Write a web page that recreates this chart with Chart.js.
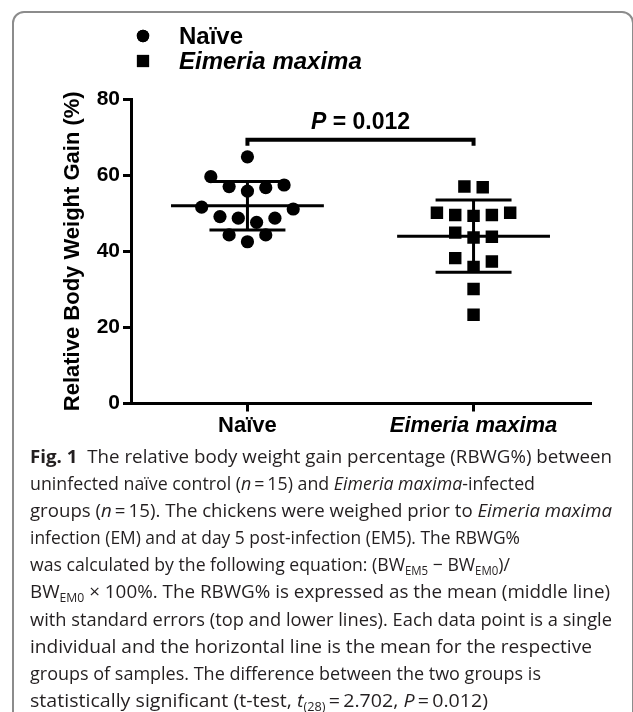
<!DOCTYPE html>
<html>
<head>
<meta charset="utf-8">
<script src="https://cdn.jsdelivr.net/npm/chart.js@4"></script>
<style>
  html, body { margin: 0; padding: 0; background: #fff; }
  body { width: 633px; height: 712px; position: relative; overflow: hidden; }
  #frame { position: absolute; left: 12px; top: 11px; width: 622px; height: 760px;
           border: 2px solid #8c8c8c; border-radius: 12px; box-sizing: border-box; }
  #chart { position: absolute; left: 0; top: 0; }
  #caption { position: absolute; left: 30px; top: 441.5px; font-family: 'Open Sans', sans-serif;
             font-size: 18.5px; line-height: 27.2px; color: #231f20; }
  #caption div { white-space: nowrap; height: 27.2px; }
  #caption div span.line { display: inline-block; transform-origin: 0 50%; }
  #caption b { font-weight: 700; }
  .sub { font-size: 12px; vertical-align: -4px; line-height: 0; }
</style>
</head>
<body>
<div id="frame"></div>
<canvas id="chart" width="633" height="450"></canvas>
<div id="caption">
  <div data-end="612"><b>Fig. 1</b>&nbsp; The relative body weight gain percentage (RBWG%) between</div>
  <div data-end="535">uninfected naïve control (<i>n</i>&thinsp;=&thinsp;15) and <i>Eimeria maxima</i>-infected</div>
  <div data-end="612">groups (<i>n</i>&thinsp;=&thinsp;15). The chickens were weighed prior to <i>Eimeria maxima</i></div>
  <div data-end="520">infection (EM) and at day 5 post-infection (EM5). The RBWG%</div>
  <div data-end="510">was calculated by the following equation: (BW<span class="sub">EM5</span> − BW<span class="sub">EM0</span>)/</div>
  <div data-end="610">BW<span class="sub">EM0</span> × 100%. The RBWG% is expressed as the mean (middle line)</div>
  <div data-end="612">with standard errors (top and lower lines). Each data point is a single</div>
  <div data-end="592">individual and the horizontal line is the mean for the respective</div>
  <div data-end="541">groups of samples. The difference between the two groups is</div>
  <div data-end="488">statistically significant (t-test, <i>t</i><span class="sub">(28)</span>&thinsp;=&thinsp;2.702, <i>P</i>&thinsp;=&thinsp;0.012)</div>
</div>
<script>
// Relative body weight gain (%) per bird
const categories = ['Naïve', 'Eimeria maxima'];
const naiveRBWG = [64.8, 59.6, 57.0, 55.8, 56.7, 57.4, 51.6, 51.1, 49.1, 48.7, 47.6, 48.7, 44.3, 44.3, 42.5];
const eimeriaRBWG = [57.0, 56.8, 50.1, 49.5, 49.3, 49.5, 50.1, 43.8, 43.6, 44.9, 38.2, 37.3, 35.9, 30.1, 23.3];
const yTicks = [0, 20, 40, 60, 80];
const pValue = 0.012;

// Drawing constants
const FONT = "'Liberation Sans', Arial, sans-serif";
const ROW_SPAN = 4.2;     // values within this range are laid out on one row
const DOT_GAP = 0.081;    // horizontal spacing between neighbouring dots (x units)
const MEAN_HALF = 0.338;  // half length of the mean line (x units)
const CAP_HALF = 0.168;   // half length of the error-bar caps (x units)
const BRACKET_Y = 69.3;
const BRACKET_DROP = 1.6;

const mean = a => a.reduce((s, v) => s + v, 0) / a.length;
const sd = a => { const m = mean(a); return Math.sqrt(a.reduce((s, v) => s + (v - m) ** 2, 0) / (a.length - 1)); };

// Scatter-dot layout: group close values into rows, lowest in the middle, then right/left alternately
function swarm(values, cx) {
  const sorted = values.map((v, i) => ({ v, i })).sort((a, b) => b.v - a.v);
  const out = new Array(values.length);
  let k = 0;
  while (k < sorted.length) {
    const top = sorted[k].v;
    const row = [];
    while (k < sorted.length && sorted[k].v >= top - ROW_SPAN - 1e-9) { row.push(sorted[k]); k++; }
    row.sort((a, b) => a.v - b.v);
    const n = row.length;
    const order = [];
    if (n % 2) {
      const m = (n - 1) / 2;
      order.push(m);
      for (let d = 1; d <= m; d++) order.push(m + d, m - d);
    } else {
      for (let d = 0; d < n / 2; d++) order.push(n / 2 + d, n / 2 - 1 - d);
    }
    row.forEach((p, j) => { out[p.i] = { x: cx + (order[j] - (n - 1) / 2) * DOT_GAP, y: p.v }; });
  }
  return out;
}

function meanLine(cx, values) {
  const m = mean(values);
  return [{ x: cx - MEAN_HALF, y: m }, { x: cx + MEAN_HALF, y: m }];
}
function errorBar(cx, values) {
  const m = mean(values), s = sd(values);
  return [
    { x: cx - CAP_HALF, y: m + s }, { x: cx + CAP_HALF, y: m + s }, { x: cx, y: null },
    { x: cx, y: m + s }, { x: cx, y: m - s }, { x: cx, y: null },
    { x: cx - CAP_HALF, y: m - s }, { x: cx + CAP_HALF, y: m - s }
  ];
}

const lineStyle = { showLine: true, pointRadius: 0, borderColor: '#000', borderWidth: 3, spanGaps: false, borderCapStyle: 'butt' };

const groups = [
  { label: categories[0], values: naiveRBWG, x: 1, pointStyle: 'circle', radius: 6.6 },
  { label: categories[1], values: eimeriaRBWG, x: 2, pointStyle: 'rect', radius: 8.8 }
];

const datasets = [];
groups.forEach(g => {
  datasets.push({ label: g.label, data: swarm(g.values, g.x), pointStyle: g.pointStyle,
    pointRadius: g.radius, pointBackgroundColor: '#000', pointBorderWidth: 0, showLine: false });
  datasets.push(Object.assign({ label: g.label + ' mean', data: meanLine(g.x, g.values) }, lineStyle));
  datasets.push(Object.assign({ label: g.label + ' SD', data: errorBar(g.x, g.values) }, lineStyle));
});
datasets.push(Object.assign({ label: 'bracket', data: [
  { x: 1, y: BRACKET_Y - BRACKET_DROP }, { x: 1, y: BRACKET_Y },
  { x: 2, y: BRACKET_Y }, { x: 2, y: BRACKET_Y - BRACKET_DROP }
] }, lineStyle, { borderWidth: 4, borderJoinStyle: 'miter' }));

// Legend and significance label
const annotations = {
  id: 'annotations',
  afterDraw(chart) {
    const ctx = chart.ctx;
    ctx.save();
    ctx.fillStyle = '#000';
    ctx.textBaseline = 'middle';
    ctx.textAlign = 'left';
    const rows = [{ y: 36, g: groups[0], style: 'normal' }, { y: 61, g: groups[1], style: 'italic' }];
    rows.forEach(r => {
      ctx.fillStyle = '#000';
      Chart.helpers.drawPoint(ctx, { pointStyle: r.g.pointStyle, radius: r.g.pointStyle === 'rect' ? 8.6 : 6.2, borderWidth: 0, rotation: 0 }, 143, r.y);
      ctx.fill();
      ctx.font = r.style + ' bold 24px ' + FONT;
      ctx.fillText(r.g.label, 179, r.y + 1);
    });
    const xs = chart.scales.x, ys = chart.scales.y;
    const cx = xs.getPixelForValue(1.5);
    const cy = ys.getPixelForValue(BRACKET_Y) - 17;
    const pPart = 'P', rest = ' = ' + pValue.toFixed(3);
    ctx.font = 'italic bold 23px ' + FONT;
    const w1 = ctx.measureText(pPart).width;
    ctx.font = 'bold 23px ' + FONT;
    const w2 = ctx.measureText(rest).width;
    const x0 = cx - (w1 + w2) / 2;
    ctx.font = 'italic bold 23px ' + FONT;
    ctx.fillText(pPart, x0, cy);
    ctx.font = 'bold 23px ' + FONT;
    ctx.fillText(rest, x0 + w1, cy);
    ctx.restore();
  }
};

Chart.defaults.font.family = FONT;
Chart.defaults.color = '#000';

new Chart(document.getElementById('chart'), {
  type: 'scatter',
  data: { datasets },
  options: {
    responsive: false,
    animation: false,
    devicePixelRatio: 1,
    layout: { padding: { top: 99, left: 40, right: 43, bottom: 0 } },
    plugins: { legend: { display: false }, tooltip: { enabled: false } },
    scales: {
      x: {
        type: 'linear', min: 0.485, max: 2.515,
        afterBuildTicks: s => { s.ticks = [{ value: 1 }, { value: 2 }]; },
        afterFit: s => { s.height = 46.5; },
        grid: { drawOnChartArea: false, drawTicks: true, tickLength: 8, color: '#000', lineWidth: 3 },
        border: { display: true, color: '#000', width: 3 },
        ticks: {
          padding: 1,
          color: '#000',
          font: c => ({ family: FONT, size: 22, weight: 'bold', style: c.index === 1 ? 'italic' : 'normal' }),
          callback: v => categories[v - 1]
        }
      },
      y: {
        min: 0, max: 80,
        afterBuildTicks: s => { s.ticks = yTicks.map(v => ({ value: v })); },
        afterFit: s => { s.width = 91; },
        grid: { drawOnChartArea: false, drawTicks: true, tickLength: 8, color: '#000', lineWidth: 3 },
        border: { display: true, color: '#000', width: 3 },
        ticks: { padding: 3, color: '#000', font: { size: 21, weight: 'bold' } },
        title: { display: true, text: 'Relative Body Weight Gain (%)', color: '#000',
                 font: { size: 22, weight: 'bold' }, padding: { top: 19.5, bottom: 0 } }
      }
    }
  },
  plugins: [annotations]
});

// Fit each caption line to its right edge
document.querySelectorAll('#caption div').forEach(div => {
  const span = document.createElement('span');
  span.className = 'line';
  span.innerHTML = div.innerHTML;
  div.innerHTML = '';
  div.appendChild(span);
  const w = span.getBoundingClientRect().width;
  const target = Number(div.dataset.end) - 30;
  span.style.transform = 'scaleX(' + (target / w) + ')';
});
</script>
</body>
</html>
